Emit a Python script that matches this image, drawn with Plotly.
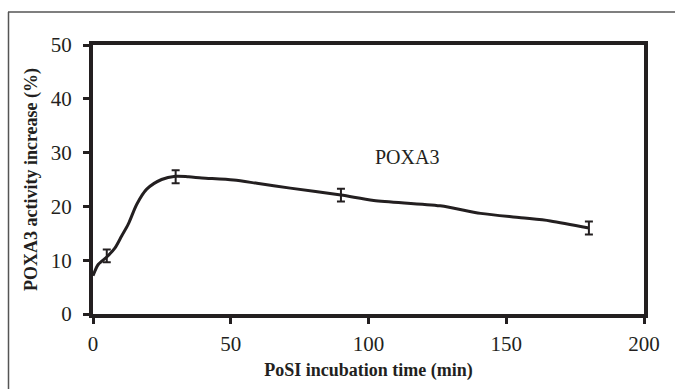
import plotly.graph_objects as go

# Measured points (mean ± error)
time_min = [5, 30, 90, 180]
activity = [10.8, 25.5, 22.1, 16.0]
error = [1.2, 1.2, 1.2, 1.2]

# Smoothed trend line
curve_x = [0, 1.9, 5, 8, 10.4, 12.8, 15.9, 19.5, 24.9, 30, 34.7, 39.5, 51, 59.5, 71.6, 90, 101.9, 126, 140.7, 155.3, 166, 180]
curve_y = [7.1, 9.2, 10.6, 12.3, 14.5, 16.7, 20.4, 23.2, 25.0, 25.6, 25.5, 25.3, 24.9, 24.3, 23.4, 22.1, 21.1, 20.1, 18.7, 17.9, 17.3, 16.0]

x_ticks = [0, 50, 100, 150, 200]
y_ticks = [0, 10, 20, 30, 40, 50]

FONT = "Liberation Serif"
INK = "#231f20"

fig = go.Figure()
fig.add_trace(go.Scatter(x=curve_x, y=curve_y, mode="lines",
                         line=dict(color=INK, width=3, shape="spline", smoothing=0.8),
                         showlegend=False, hoverinfo="skip"))
fig.add_trace(go.Scatter(x=time_min, y=activity, mode="markers",
                         marker=dict(size=1, color=INK, opacity=0),
                         error_y=dict(type="data", array=error, visible=True,
                                      color=INK, thickness=2, width=4),
                         showlegend=False))

fig.add_annotation(x=114, y=29.2, text="POXA3", showarrow=False,
                   font=dict(family=FONT, size=20, color=INK))

# outer frame (left and top edges)
fig.add_shape(type="line", xref="paper", yref="paper",
              x0=(8.5 - 93) / 551, x1=(8.5 - 93) / 551,
              y0=(314 - 12) / 269, y1=-2,
              line=dict(color="#555555", width=1.5))
fig.add_shape(type="line", xref="paper", yref="paper",
              x0=(8 - 93) / 551, x1=(680 - 93) / 551,
              y0=(314 - 12) / 269, y1=(314 - 12) / 269,
              line=dict(color="#555555", width=1.5))

axis_common = dict(showgrid=False, zeroline=False, showline=True, mirror=True,
                   linecolor=INK, linewidth=4, ticks="outside", ticklen=6,
                   tickwidth=3, tickcolor=INK,
                   tickfont=dict(family=FONT, size=21, color=INK))

fig.update_xaxes(range=[0, 200], tickvals=x_ticks, ticklabelstandoff=2,
                 title=dict(text="<b>PoSI incubation time (min)</b>", standoff=9,
                            font=dict(family=FONT, size=18, color=INK)),
                 **axis_common)
fig.update_yaxes(range=[0, 50], tickvals=y_ticks, ticklabelstandoff=7,
                 title=dict(text="<b>POXA3 activity increase (%)</b>", standoff=9,
                            font=dict(family=FONT, size=18, color=INK)),
                 **axis_common)

fig.update_layout(width=675, height=389,
                  margin=dict(l=93, r=31, t=45, b=75, autoexpand=False),
                  paper_bgcolor="white", plot_bgcolor="white")

fig.write_html("out.html")
